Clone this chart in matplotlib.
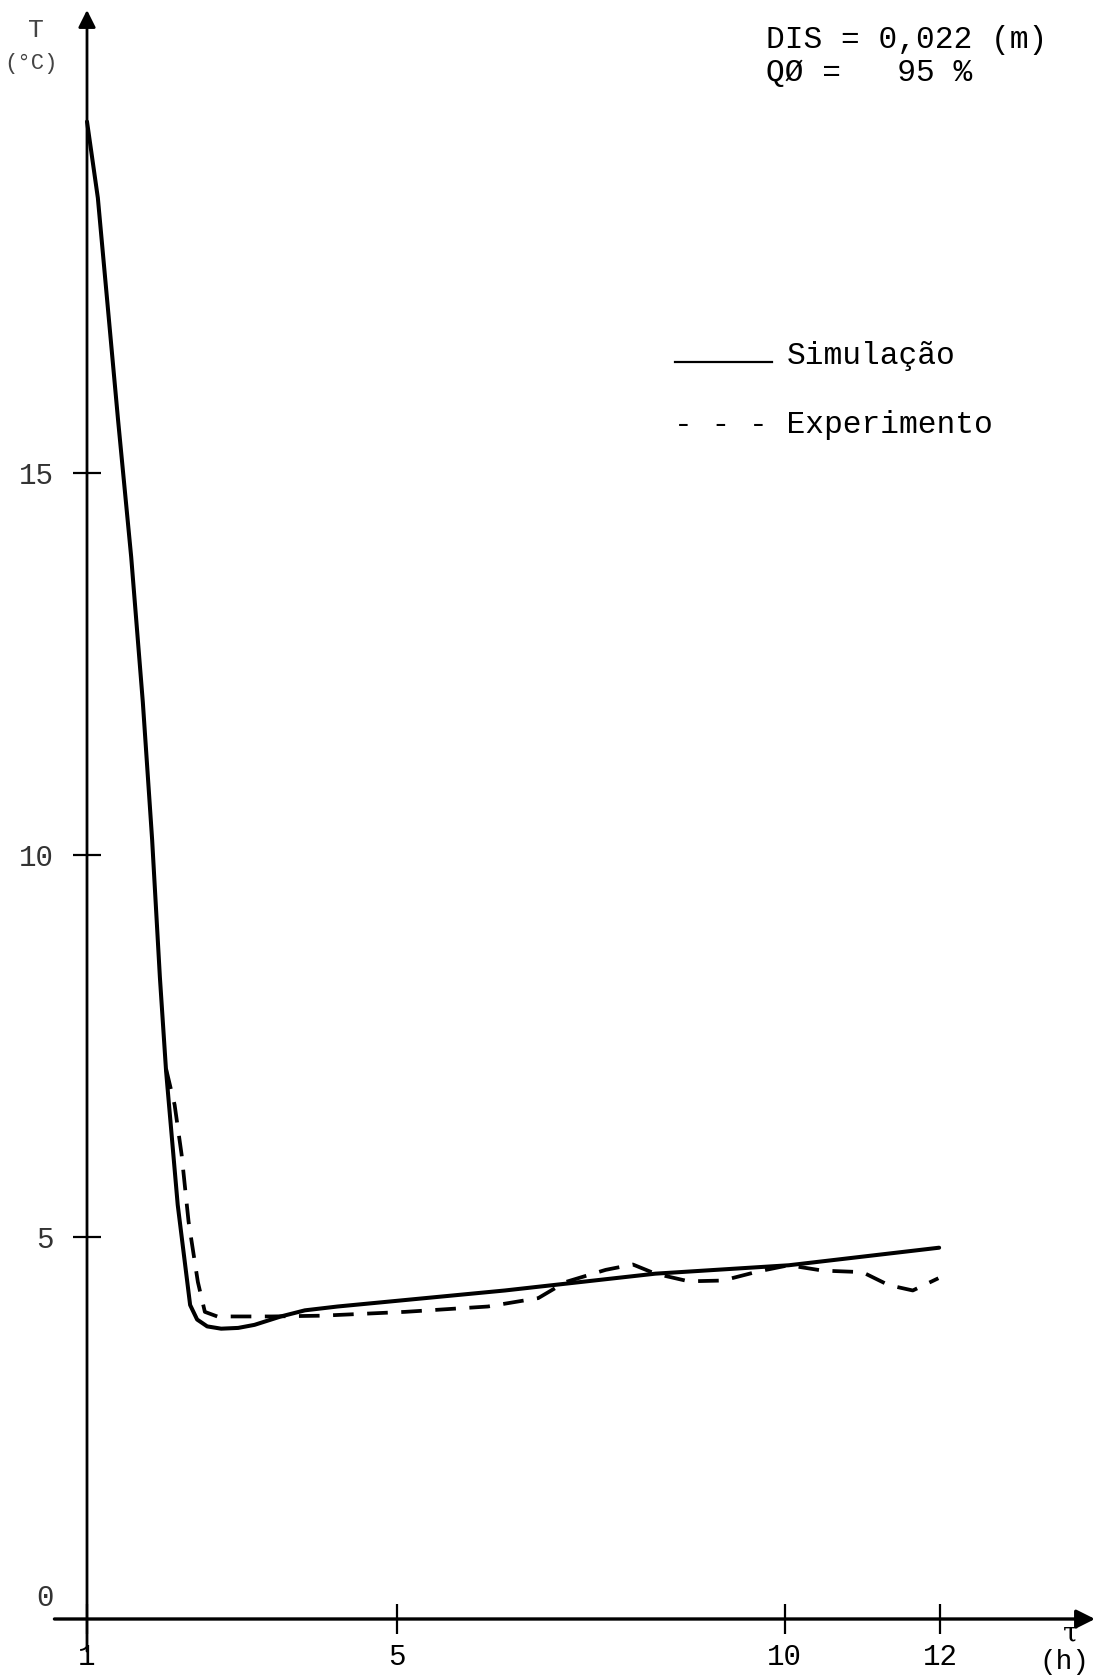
import matplotlib
matplotlib.use("Agg")
import matplotlib.pyplot as plt
from matplotlib.lines import Line2D

# ---- data ----
tau_sim = [1.00, 1.14, 1.40, 1.57, 1.72, 1.84, 1.94, 2.02, 2.17, 2.33, 2.42, 2.55,
           2.73, 2.95, 3.16, 3.50, 3.81, 4.23, 6.39, 8.33, 10.05, 11.99]
T_sim = [19.6, 18.6, 15.7, 13.9, 12.0, 10.2, 8.4, 7.17, 5.42, 4.11, 3.92, 3.83,
         3.80, 3.81, 3.85, 3.96, 4.04, 4.09, 4.30, 4.52, 4.63, 4.86]

tau_exp = [2.02, 2.13, 2.22, 2.31, 2.43, 2.52, 2.68, 3.38, 4.03, 5.10, 6.17, 6.82,
           7.17, 7.69, 8.04, 8.33, 8.76, 9.20, 9.66, 10.05, 10.49, 11.00, 11.34,
           11.65, 11.98]
T_exp = [7.2, 6.73, 6.08, 5.20, 4.41, 4.02, 3.96, 3.96, 3.97, 4.02, 4.09, 4.20,
         4.41, 4.57, 4.64, 4.52, 4.42, 4.43, 4.55, 4.63, 4.56, 4.54, 4.37,
         4.30, 4.46]

xticks = [1, 5, 10, 12]
xtick_labels = ["1", "5", "10", "12"]
yticks = [5, 10, 15]
ytick_labels = ["5", "10", "15"]

FONT = "Liberation Mono"
W, H = 1099, 1678

fig = plt.figure(figsize=(W / 100, H / 100), dpi=100)
fig.patch.set_facecolor("white")
ax = fig.add_axes([87 / W, 59 / H, 1008 / W, 1609 / H])
ax.set_xlim(1, 14.0)
ax.set_ylim(0, 21.06)
for s in ax.spines.values():
    s.set_visible(False)
ax.patch.set_alpha(0)

# axes with arrows
ax.annotate("", xy=(14.0, 0), xytext=(0.58, 0),
            arrowprops=dict(arrowstyle="-|>", lw=2.4, color="black",
                            mutation_scale=28, shrinkA=0, shrinkB=0),
            annotation_clip=False)
ax.annotate("", xy=(1, 21.06), xytext=(1, -0.42),
            arrowprops=dict(arrowstyle="-|>", lw=2.0, color="black",
                            mutation_scale=26, shrinkA=0, shrinkB=0),
            annotation_clip=False)

# curves
ax.plot(tau_sim, T_sim, color="black", lw=2.9, solid_joinstyle="round",
        solid_capstyle="round", clip_on=False, zorder=3)
ax.plot(tau_exp, T_exp, color="black", lw=2.7, dashes=(5.5, 3.6),
        dash_capstyle="butt", clip_on=False, zorder=3)

# ticks
ax.set_xticks(xticks)
ax.set_xticklabels(xtick_labels, fontfamily=FONT, fontsize=21)
ax.set_yticks(yticks)
ax.set_yticklabels(ytick_labels, fontfamily=FONT, fontsize=21, color="#333333")
ax.tick_params(axis="x", direction="inout", length=22, width=1.6, pad=6)
ax.tick_params(axis="y", direction="inout", length=20, width=1.6, pad=14)
ax.text(1 - 42 / 77.5, 0.28, "0", fontfamily=FONT, fontsize=21, color="#333333",
        ha="center", va="center")

# axis labels
fig.text(1071 / W, 1 - 1634 / H, "τ", fontsize=20, ha="center", va="center",
         fontfamily=["DejaVu Serif"])
fig.text(1064 / W, 1 - 1662 / H, "(h)", fontsize=20, ha="center", va="center",
         fontfamily=FONT)
fig.text(36 / W, 1 - 30 / H, "T", fontsize=19, ha="center", va="center",
         fontfamily=FONT, color="#444444")
fig.text(4 / W, 1 - 64 / H, "(°C)", fontsize=16, ha="left", va="center",
         fontfamily=FONT, color="#444444")

# annotation
fig.text(766 / W, 1 - 40 / H, "DIS = 0,022 (m)", fontsize=22.5, ha="left",
         va="center", fontfamily=FONT)
fig.text(766 / W, 1 - 73 / H, "QØ =   95 %", fontsize=22.5, ha="left",
         va="center", fontfamily=FONT)

# legend (typewriter style)
fig.add_artist(Line2D([675 / W, 772 / W], [1 - 362 / H, 1 - 362 / H],
                      color="black", lw=1.6, transform=fig.transFigure))
fig.text(787 / W, 1 - 364 / H, "Simulação", fontsize=22.5, ha="left",
         va="baseline", fontfamily=FONT)
fig.text(674 / W, 1 - 433 / H, "- - - Experimento", fontsize=22.5, ha="left",
         va="baseline", fontfamily=FONT)

fig.savefig("out.png", dpi=100, facecolor="white")
